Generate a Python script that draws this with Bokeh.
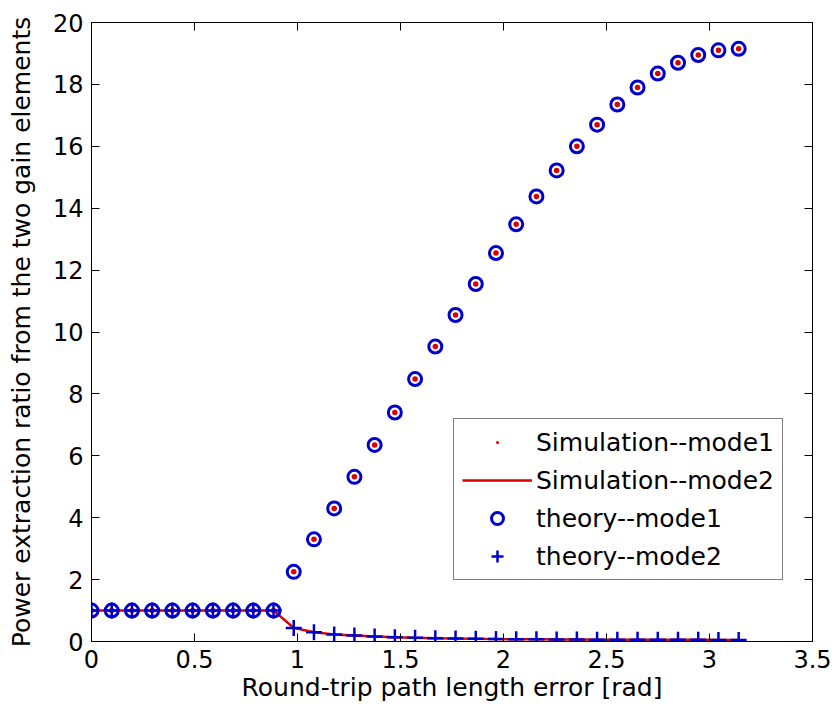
import numpy as np
from bokeh.plotting import figure
from bokeh.models import LinearAxis, FixedTicker, Range1d, Legend, LegendItem
from bokeh.embed import file_html
from bokeh.resources import INLINE

# Round-trip path length error, k*pi/32
k_index = list(range(33))
x_err = [k * np.pi / 32 for k in k_index]

# mode 1 power extraction ratio
mode1 = [1.0, 1.0, 1.0, 1.0, 1.0, 1.0, 1.0, 1.0, 1.0, 1.0,
         2.25, 3.3, 4.3, 5.32, 6.35, 7.4, 8.48, 9.53, 10.55, 11.55,
         12.55, 13.48, 14.38, 15.22, 16.0, 16.7, 17.35, 17.9, 18.35,
         18.7, 18.95, 19.1, 19.15]
# mode 2 power extraction ratio
mode2 = [1.0, 1.0, 1.0, 1.0, 1.0, 1.0, 1.0, 1.0, 1.0, 1.0,
         0.44, 0.30, 0.23, 0.19, 0.16, 0.135, 0.118, 0.105, 0.095,
         0.087, 0.08, 0.074, 0.07, 0.066, 0.063, 0.06, 0.058, 0.056,
         0.054, 0.053, 0.053, 0.052, 0.052]

x_ticks = [0, 0.5, 1, 1.5, 2, 2.5, 3, 3.5]
y_ticks = [0, 2, 4, 6, 8, 10, 12, 14, 16, 18, 20]

FONT = "DejaVu Sans"
RED = "#dd0000"
BLUE = "#0000cc"

p = figure(width=840, height=715, output_backend="svg", toolbar_location=None,
           x_range=Range1d(0, 3.5), y_range=Range1d(0, 20),
           min_border_left=91, min_border_right=28, min_border_top=22,
           min_border_bottom=74)
p.background_fill_color = "white"
p.border_fill_color = "white"
p.outline_line_color = "black"
p.outline_line_width = 1
p.grid.visible = False

for ax in (p.xaxis[0], p.yaxis[0]):
    ax.major_tick_in = 8
    ax.major_tick_out = 0
    ax.minor_tick_line_color = None
    ax.axis_line_color = "black"
    ax.major_tick_line_color = "black"
    ax.major_label_text_font = FONT
    ax.major_label_text_font_size = "24px"
    ax.major_label_text_color = "black"
    ax.axis_label_text_font = FONT
    ax.axis_label_text_font_size = "25px"
    ax.axis_label_text_font_style = "normal"
    ax.axis_label_text_color = "black"

p.xaxis[0].ticker = FixedTicker(ticks=x_ticks)
p.yaxis[0].ticker = FixedTicker(ticks=y_ticks)
p.xaxis[0].axis_label = "Round-trip path length error [rad]"
p.yaxis[0].axis_label = "Power extraction ratio from the two gain elements"
p.xaxis[0].major_label_standoff = 8
p.xaxis[0].axis_label_standoff = 2
p.yaxis[0].major_label_standoff = 8
p.yaxis[0].axis_label_standoff = 14

top_ax = LinearAxis(ticker=FixedTicker(ticks=x_ticks),
                    major_label_overrides={t: "" for t in x_ticks},
                    major_label_text_font_size="8px",
                    major_tick_in=8, major_tick_out=0, minor_tick_line_color=None,
                    major_label_standoff=0)
right_ax = LinearAxis(ticker=FixedTicker(ticks=y_ticks),
                      major_label_overrides={t: "" for t in y_ticks},
                      major_label_text_font_size="8px",
                      major_tick_in=8, major_tick_out=0, minor_tick_line_color=None,
                      major_label_standoff=0)
p.add_layout(top_ax, "above")
p.add_layout(right_ax, "right")

r_sim1 = p.scatter(x_err, mode1, marker="dot", size=22, fill_color=RED,
                   line_color=RED, line_width=1)
r_sim2 = p.line(x_err, mode2, line_color=RED, line_width=2.5)
r_th1 = p.scatter(x_err, mode1, marker="circle", size=13, fill_color=None,
                  line_color=BLUE, line_width=3)
r_th2 = p.scatter(x_err, mode2, marker="cross", size=16, line_color=BLUE, line_width=2.5)

legend = Legend(items=[
    LegendItem(label="Simulation--mode1", renderers=[r_sim1]),
    LegendItem(label="Simulation--mode2", renderers=[r_sim2]),
    LegendItem(label="theory--mode1", renderers=[r_th1]),
    LegendItem(label="theory--mode2", renderers=[r_th2]),
], location=(362, 61))
legend.label_text_font = FONT
legend.label_text_font_size = "25px"
legend.label_text_color = "black"
legend.border_line_color = "black"
legend.border_line_width = 1
legend.background_fill_color = "white"
legend.background_fill_alpha = 1
legend.glyph_width = 70
legend.glyph_height = 30
legend.label_height = 30
legend.label_standoff = 4
legend.spacing = 8
legend.padding = 8
legend.margin = 0
p.add_layout(legend)

open("out.html", "w").write(file_html(p, INLINE))
